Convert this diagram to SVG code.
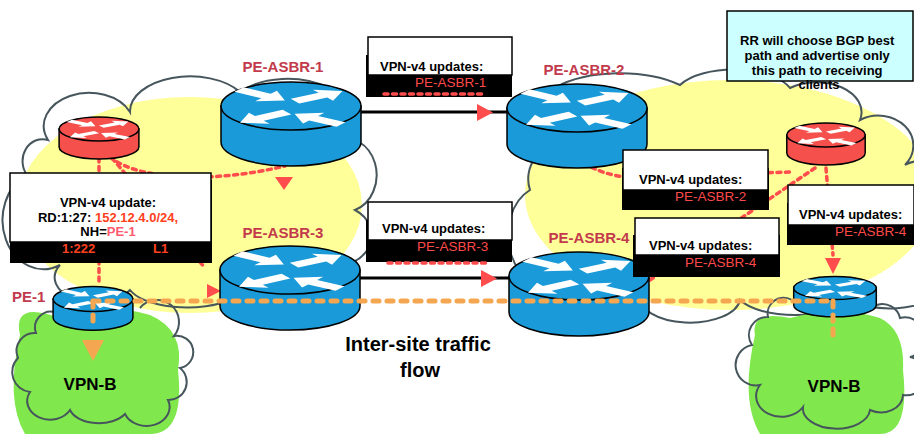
<svg xmlns="http://www.w3.org/2000/svg" width="914" height="434" viewBox="0 0 914 434">
  <style>
    text { font-family: "Liberation Sans", Arial, sans-serif; font-weight: bold; }
    .lbl { fill: #c23a4c; font-size: 15px; }
    .box { fill: #ffffff; stroke: #000; stroke-width: 1.5; }
    .shadow { fill: #000; }
    .t13 { font-size: 13px; fill: #000; }
    .red { fill: #ff4a4a; font-weight: normal; font-size: 13.5px; }
    .cloud { fill: none; stroke: #46565c; stroke-width: 2; }
    .rdash { fill: none; stroke: #ff4d4d; stroke-width: 3.5; stroke-linecap: round; stroke-dasharray: 4 4.5; }
    .odash { fill: none; stroke: #f5a650; stroke-width: 5; stroke-linecap: round; stroke-dasharray: 6 8; }
    .link { stroke: #000; stroke-width: 3; }
    .body { fill: currentColor; stroke: #000; stroke-width: 1.5; }
  </style>
  <defs>
    <!-- white arrow used on router tops, pointing along +x -->
    <polygon id="arw" points="0,-8 33,-8 33,-19 56,0 33,19 33,8 0,8" fill="#fff"/>
    <!-- router cylinder: top face centred at 0,0, rx 70, ry 24 -->
    <g id="rtr">
      <path class="body" vector-effect="non-scaling-stroke" d="M-70,0 L-70,36 A70,24 0 0 0 70,36 L70,0 Z"/>
      <ellipse class="body" vector-effect="non-scaling-stroke" cx="0" cy="0" rx="70" ry="24"/>
      <g transform="scale(1,0.343)">
        <use href="#arw" transform="translate(-52,-48) rotate(35)"/>
        <use href="#arw" transform="translate(4,-14) rotate(-32)"/>
        <use href="#arw" transform="translate(-4,18) rotate(147)"/>
        <use href="#arw" transform="translate(50,54) rotate(-146)"/>
      </g>
    </g>
  </defs>

  <rect width="914" height="434" fill="#fff"/>

  <!-- provider clouds -->
  <g id="as-left">
    <ellipse cx="190" cy="205" rx="172" ry="108" fill="#ffff99"/>
    <path class="cloud" d="M27,175 A20,22 0 0 1 48,140 A30,22 0 0 1 130,112 A60,35 0 0 1 240,92 A50,30 0 0 1 335,140 A30,35 0 0 1 355,210 A35,30 0 0 1 330,265 A50,30 0 0 1 230,300 A60,25 0 0 1 130,290 A40,25 0 0 1 60,265 A25,30 0 0 1 27,175 Z"/>
  </g>
  <g id="as-right">
    <ellipse cx="730" cy="195" rx="205" ry="115" fill="#ffff99"/>
    <path class="cloud" d="M530,190 A25,30 0 0 1 560,150 A60,30 0 0 1 680,85 A60,28 0 0 1 790,88 A45,30 0 0 1 860,120 A35,30 0 0 1 905,165 A30,40 0 0 1 930,240 A50,30 0 0 1 850,300 A60,25 0 0 1 740,300 A50,25 0 0 1 640,295 A40,30 0 0 1 560,280 A30,40 0 0 1 530,190 Z"/>
  </g>

  <!-- customer sites -->
  <g id="vpnb-left">
    <path d="M20,335 Q12,300 60,318 Q100,300 150,315 Q185,330 178,370 Q185,434 150,434 L25,434 Q5,400 20,335 Z" fill="#80e84c"/>
    <path class="cloud" d="M55,312 A16,16 0 0 0 36,333 A18,18 0 0 0 18,358 A20,20 0 0 0 30,392 A22,18 0 0 0 70,410 A30,18 0 0 0 125,414 A22,18 0 0 0 168,400 A18,18 0 0 0 180,368 A16,16 0 0 0 174,336 A18,18 0 0 0 140,308"/>
    <text x="90" y="390" text-anchor="middle" font-size="17">VPN-B</text>
  </g>
  <g id="vpnb-right">
    <path d="M755,335 Q750,310 790,318 Q840,305 880,318 Q905,330 903,370 Q910,434 880,434 L760,434 Q740,400 755,335 Z" fill="#80e84c"/>
    <path class="cloud" d="M792,300 A16,16 0 0 0 768,317 A18,18 0 0 0 752,345 A20,20 0 0 0 760,385 A22,18 0 0 0 803,407 A30,18 0 0 0 870,410 A22,18 0 0 0 903,395 A18,18 0 0 0 910,357 A16,16 0 0 0 900,318 A18,18 0 0 0 877,305"/>
    <text x="834" y="392" text-anchor="middle" font-size="17">VPN-B</text>
  </g>

  <!-- connectors -->
  <g id="connectors">
    <line class="link" x1="358" y1="112" x2="510" y2="112"/>
    <polygon points="477,104 477,121 493,112.5" fill="#ff4d4d"/>
    <line class="link" x1="358" y1="278" x2="512" y2="278"/>
    <polygon points="481,270 481,287 497,278.5" fill="#ff4d4d"/>
    <path class="rdash" d="M110,157 C140,182 220,182 285,166"/>
    <polygon points="275,177 293,177 284,190" fill="#ff4d4d"/>
    <path class="rdash" d="M99,158 L99,285"/>
    <path class="rdash" d="M112,158 L205,268"/>
    <polygon points="207,284 207,298 221,291" fill="#ff4d4d"/>
    <path class="rdash" d="M578,157 C590,170 610,175 625,177 L790,172"/>
    <path class="rdash" d="M826,168 L833,255"/>
    <polygon points="825,258 841,258 833,274" fill="#ff4d4d"/>
    <path class="rdash" d="M815,168 L650,280"/>
    <polygon points="82,340 104,340 93,361" fill="#f5a650"/>
  </g>

  <!-- routers -->
  <g id="pe-asbr-1">
    <use href="#rtr" transform="translate(291,106)" color="#1a9ad8"/>
    <text class="lbl" x="283" y="72" text-anchor="middle">PE-ASBR-1</text>
  </g>
  <g id="pe-asbr-2">
    <use href="#rtr" transform="translate(577,108)" color="#1a9ad8"/>
    <text class="lbl" x="584" y="75" text-anchor="middle">PE-ASBR-2</text>
  </g>
  <g id="pe-asbr-3">
    <use href="#rtr" transform="translate(290,270)" color="#1a9ad8"/>
    <text class="lbl" x="283" y="238" text-anchor="middle">PE-ASBR-3</text>
  </g>
  <g id="pe-asbr-4">
    <use href="#rtr" transform="translate(579,276)" color="#1a9ad8"/>
    <text class="lbl" x="589" y="243" text-anchor="middle">PE-ASBR-4</text>
  </g>
  <g id="rr-left">
    <use href="#rtr" transform="translate(99,129) scale(0.57,0.5)" color="#f5504c"/>
  </g>
  <g id="rr-right">
    <use href="#rtr" transform="translate(826,135) scale(0.56,0.5)" color="#f5504c"/>
  </g>
  <g id="pe-1">
    <use href="#rtr" transform="translate(93,299) scale(0.57,0.52)" color="#1a9ad8"/>
    <text class="lbl" x="12" y="302" font-size="14">PE-1</text>
  </g>
  <g id="pe-right">
    <use href="#rtr" transform="translate(835,288) scale(0.59,0.48)" color="#1a9ad8"/>
  </g>

  <!-- inter-site traffic path, drawn over the routers -->
  <g id="flow-path">
    <path class="odash" d="M93,301 L833,301"/>
    <path class="odash" d="M93,301 L93,326"/>
    <path class="odash" d="M833,301 L833,340"/>
  </g>

  <!-- update callouts -->
  <g id="callout-pe1">
    <rect class="shadow" x="10" y="180" width="202" height="83"/>
    <rect class="box" x="10" y="173" width="201" height="69"/>
    <text class="t13" x="108" y="207" text-anchor="middle">VPN-v4 update:</text>
    <text class="t13" x="108" y="222" text-anchor="middle">RD:1:27: <tspan fill="#ff4020">152.12.4.0/24,</tspan></text>
    <text class="t13" x="108" y="236" text-anchor="middle">NH=<tspan fill="#ff5a6e">PE-1</tspan></text>
    <text x="62" y="253" font-size="13" fill="#ff4020">1:222</text>
    <text x="153" y="253" font-size="13" fill="#ff4020">L1</text>
  </g>
  <g id="callout-asbr1">
    <rect class="shadow" x="366" y="55" width="146" height="42"/>
    <rect class="box" x="368" y="37" width="144" height="38"/>
    <text class="t13" x="380" y="71" font-size="13.5">VPN-v4 updates:</text>
    <text class="red" x="415" y="87">PE-ASBR-1</text>
    <line class="rdash" x1="384" y1="94" x2="486" y2="94"/>
  </g>
  <g id="callout-asbr3">
    <rect class="shadow" x="366" y="220" width="146" height="42"/>
    <rect class="box" x="368" y="202" width="144" height="38"/>
    <text class="t13" x="382" y="233" font-size="13.5">VPN-v4 updates:</text>
    <text class="red" x="417" y="251">PE-ASBR-3</text>
    <line class="rdash" x1="388" y1="263" x2="487" y2="263"/>
  </g>
  <g id="callout-asbr2">
    <rect class="shadow" x="622" y="168" width="147" height="42"/>
    <rect class="box" x="623" y="150" width="145" height="40"/>
    <text class="t13" x="639" y="184">VPN-v4 updates:</text>
    <text class="red" x="675" y="201" font-size="13">PE-ASBR-2</text>
  </g>
  <g id="callout-asbr4">
    <rect class="shadow" x="633" y="235" width="147" height="42"/>
    <rect class="box" x="635" y="218" width="144" height="37"/>
    <text class="t13" x="649" y="250">VPN-v4 updates:</text>
    <text class="red" x="685" y="267">PE-ASBR-4</text>
  </g>
  <g id="callout-rr">
    <rect class="shadow" x="787" y="203" width="130" height="42"/>
    <rect class="box" x="788" y="185" width="126" height="40"/>
    <text class="t13" x="799" y="219">VPN-v4 updates:</text>
    <text class="red" x="835" y="236">PE-ASBR-4</text>
  </g>
  <g id="note-rr">
    <rect x="727" y="11" width="186" height="70" fill="#ccffff" stroke="#000" stroke-width="1.5"/>
    <text class="t13" text-anchor="middle" x="819">
      <tspan x="819" y="45">RR will choose BGP best</tspan>
      <tspan x="819" y="60">path and advertise only</tspan>
      <tspan x="819" y="75">this path to receiving</tspan>
      <tspan x="819" y="89">clients</tspan>
    </text>
  </g>

  <g id="flow-label">
    <text x="418" y="351" text-anchor="middle" font-size="20">Inter-site traffic</text>
    <text x="420" y="377" text-anchor="middle" font-size="20">flow</text>
  </g>
</svg>
